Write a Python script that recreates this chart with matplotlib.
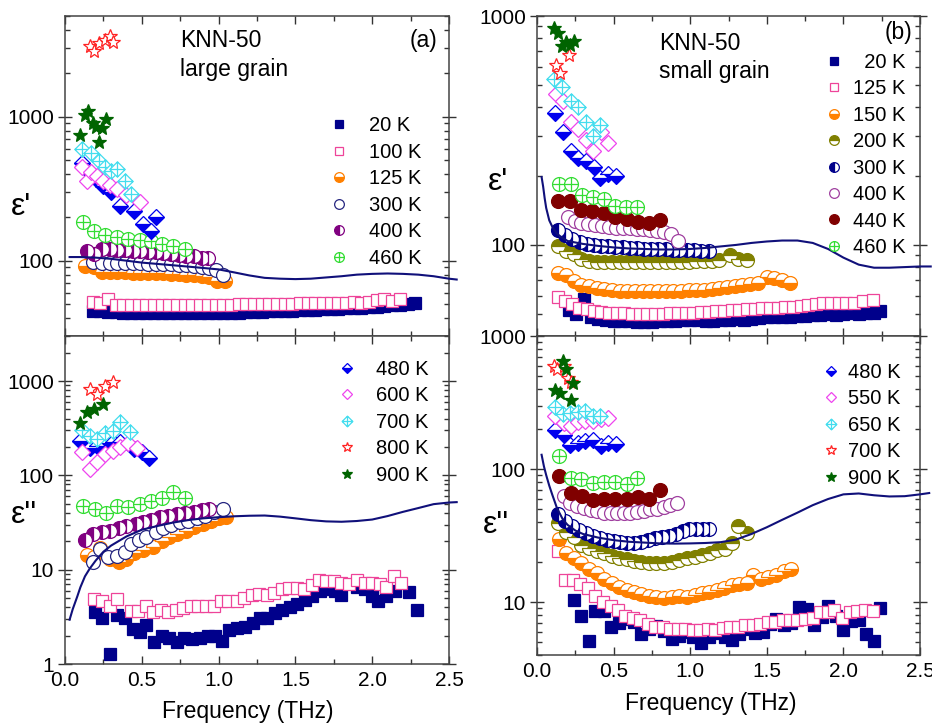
import matplotlib
matplotlib.use('Agg')
import matplotlib.pyplot as plt
from matplotlib.path import Path
from matplotlib.ticker import MultipleLocator, FuncFormatter, NullFormatter, LogLocator

plt.rcParams['font.family'] = ['Liberation Sans', 'DejaVu Sans']

# ---------------- Panel (a) large grain : eps' ----------------
A1_F20 = [0.18, 0.23, 0.28, 0.33, 0.38, 0.43, 0.48, 0.53, 0.58, 0.63, 0.68, 0.73, 0.78, 0.83, 0.88,
          0.93, 0.98, 1.03, 1.08, 1.13, 1.18, 1.23, 1.28, 1.33, 1.38, 1.43, 1.48, 1.53, 1.58, 1.63,
          1.68, 1.73, 1.78, 1.83, 1.88, 1.93, 1.98, 2.03, 2.08, 2.13, 2.18, 2.23, 2.28]
A1_E20 = [45, 44.5, 44, 43.7, 43.5, 43.3, 43.2, 43.1, 43, 43, 43, 43, 43, 43, 43.1, 43.2, 43.3, 43.4,
          43.5, 43.6, 43.8, 44, 44.2, 44.4, 44.6, 44.8, 45, 45.2, 45.5, 45.8, 46, 46.2, 46.5, 46.8,
          47, 47.3, 47.6, 48, 48.5, 49, 49.5, 50, 50.5]
A1_F100 = [0.18, 0.23, 0.28, 0.33, 0.38, 0.43, 0.48, 0.53, 0.58, 0.63, 0.68, 0.73, 0.78, 0.83, 0.88,
           0.93, 0.98, 1.03, 1.08, 1.13, 1.18, 1.23, 1.28, 1.33, 1.38, 1.43, 1.48, 1.53, 1.58, 1.63,
           1.68, 1.73, 1.78, 1.83, 1.88, 1.93, 1.98, 2.03, 2.08, 2.13, 2.18]
A1_E100 = [51.5, 51, 54, 49, 49, 49, 49, 49, 49, 49, 49, 49.2, 49.2, 49.3, 49.3, 49.4, 49.5, 49.5,
           49.6, 49.7, 49.8, 49.9, 50, 50, 50.2, 50.3, 50.4, 50.5, 50.6, 50.8, 51, 51, 51, 51.2,
           51.5, 51, 51.5, 53.5, 54, 52.5, 54.5]
A1_F125 = [0.13, 0.19, 0.24, 0.29, 0.34, 0.39, 0.44, 0.49, 0.54, 0.59, 0.64, 0.69, 0.74, 0.79, 0.84,
           0.89, 0.94, 0.99, 1.04]
A1_E125 = [92, 91, 84, 83.5, 83, 83, 82.5, 82.5, 82, 82, 81.5, 81, 80.5, 80, 79.5, 78.5, 77, 72, 72.5]
A1_F300 = [0.18, 0.24, 0.29, 0.34, 0.39, 0.44, 0.49, 0.54, 0.59, 0.64, 0.69, 0.74, 0.79, 0.84, 0.89,
           0.94, 0.98, 1.03]
A1_E300 = [98, 97, 97, 96.5, 96.5, 96, 96, 95.5, 95, 95, 94.5, 94, 93, 92, 91, 89, 86, 79]
A1_F400 = [0.14, 0.19, 0.24, 0.29, 0.34, 0.39, 0.44, 0.49, 0.54, 0.59, 0.64, 0.69, 0.74, 0.79, 0.84,
           0.89, 0.93]
A1_E400 = [117, 112, 120, 120, 119, 118, 117, 116, 115, 114, 113, 112, 110, 108, 107, 105, 104]
A1_F460 = [0.12, 0.19, 0.26, 0.34, 0.41, 0.49, 0.56, 0.63, 0.70, 0.78]
A1_E460 = [185, 162, 151, 146, 142, 140, 136, 131, 127, 121]
A1_F480 = [0.11, 0.15, 0.20, 0.25, 0.30, 0.36, 0.45, 0.51, 0.56, 0.59]
A1_E480 = [480, 420, 370, 330, 300, 240, 220, 180, 160, 200]
A1_F600 = [0.11, 0.14, 0.17, 0.21, 0.25, 0.29, 0.34, 0.40, 0.49]
A1_E600 = [450, 355, 410, 385, 360, 335, 315, 285, 255]
A1_F700 = [0.11, 0.17, 0.22, 0.26, 0.30, 0.34, 0.39, 0.43]
A1_E700 = [600, 555, 490, 450, 420, 435, 360, 290]
A1_F800 = [0.16, 0.19, 0.22, 0.26, 0.29, 0.31]
A1_E800 = [3100, 2850, 3250, 3400, 3650, 3300]
A1_F900 = [0.10, 0.13, 0.15, 0.18, 0.20, 0.22, 0.24, 0.27]
A1_E900 = [750, 1030, 1090, 900, 850, 670, 830, 970]
A1_FL = [0.03, 0.1, 0.2, 0.3, 0.4, 0.5, 0.6, 0.7, 0.8, 0.9, 1.0, 1.1, 1.2, 1.3, 1.4, 1.5, 1.6, 1.7,
         1.8, 1.9, 2.0, 2.1, 2.2, 2.3, 2.4, 2.5, 2.55]
A1_EL = [106, 106, 105, 103, 100, 97, 95, 93, 91, 89, 87, 83, 79, 76, 75, 74.5, 75, 76.5, 78, 80,
         81, 81.5, 81, 80, 78, 75, 74]

# ---------------- Panel (a) large grain : eps'' ----------------
A2_F20 = [0.195, 0.24, 0.29, 0.336, 0.39, 0.445, 0.49, 0.53, 0.58, 0.63, 0.68, 0.73, 0.777, 0.83,
          0.88, 0.93, 0.976, 1.02, 1.07, 1.12, 1.17, 1.226, 1.27, 1.317, 1.367, 1.415, 1.465, 1.51,
          1.56, 1.61, 1.66, 1.71, 1.76, 1.80, 1.90, 1.95, 2.0, 2.04, 2.09, 2.15, 2.24, 2.29]
A2_E20 = [3.6, 3.1, 1.28, 3.3, 3.06, 2.34, 2.2, 2.6, 1.73, 1.99, 1.88, 1.73, 1.88, 1.85, 1.9, 1.96,
          1.96, 1.77, 2.3, 2.4, 2.45, 2.7, 3.06, 3.1, 3.45, 3.7, 4.0, 4.3, 4.75, 5.3, 5.9, 6.3, 6.0,
          5.4, 6.6, 6.3, 5.3, 4.7, 5.3, 6.0, 5.8, 3.7]
A2_F100 = [0.19, 0.24, 0.29, 0.336, 0.43, 0.477, 0.527, 0.575, 0.625, 0.673, 0.72, 0.77, 0.82, 0.868,
           0.918, 0.97, 1.015, 1.063, 1.118, 1.167, 1.215, 1.265, 1.313, 1.363, 1.41, 1.458, 1.508,
           1.558, 1.606, 1.654, 1.70, 1.75, 1.80, 1.85, 1.90, 1.95, 2.0, 2.05, 2.09, 2.14, 2.19]
A2_E100 = [4.9, 4.7, 4.1, 4.9, 3.66, 3.66, 4.07, 3.6, 3.7, 3.6, 3.75, 3.9, 4.07, 4.07, 4.1, 4.1, 4.7,
           4.7, 4.7, 5.0, 5.4, 5.55, 5.4, 5.6, 6.2, 6.4, 6.4, 6.2, 6.9, 7.7, 7.5, 7.5, 7.2, 7.1, 7.8,
           7.2, 7.2, 7.1, 6.5, 8.6, 7.3]
A2_F125 = [0.14, 0.19, 0.23, 0.29, 0.35, 0.40, 0.45, 0.51, 0.57, 0.63, 0.68, 0.73, 0.79, 0.84, 0.90,
           0.95, 1.00, 1.05]
A2_E125 = [14.2, 13.5, 16.8, 13.0, 12.0, 13.0, 15.2, 16.0, 17.3, 20.2, 22, 24, 26, 28, 30.5, 33, 35, 36]
A2_F300 = [0.18, 0.23, 0.28, 0.34, 0.39, 0.43, 0.48, 0.53, 0.59, 0.64, 0.69, 0.75, 0.80, 0.86, 0.91,
           0.97, 1.03]
A2_E300 = [12, 16.5, 13.5, 14, 15.5, 18.7, 20.4, 22, 25, 27.5, 29.8, 31.8, 33.2, 35, 37.5, 41, 44]
A2_F400 = [0.13, 0.18, 0.24, 0.29, 0.35, 0.40, 0.46, 0.51, 0.56, 0.62, 0.67, 0.73, 0.78, 0.84, 0.89,
           0.94]
A2_E400 = [20.5, 24, 25, 25.4, 27.5, 29, 30.6, 32.4, 34, 36, 37.5, 39, 40, 40.7, 42.5, 44]
A2_F460 = [0.12, 0.195, 0.265, 0.34, 0.41, 0.49, 0.56, 0.63, 0.70, 0.78]
A2_E460 = [47, 44, 40, 47, 46, 50, 54, 57, 66, 58]
A2_F480 = [0.10, 0.16, 0.21, 0.26, 0.31, 0.36, 0.45, 0.50, 0.55]
A2_E480 = [232, 197, 204, 222, 224, 225, 190, 175, 152]
A2_F600 = [0.11, 0.16, 0.21, 0.26, 0.31, 0.36, 0.41, 0.47]
A2_E600 = [176, 118, 137, 168, 182, 200, 218, 194]
A2_F700 = [0.11, 0.16, 0.21, 0.26, 0.31, 0.36, 0.42]
A2_E700 = [300, 260, 245, 280, 292, 370, 285]
A2_F800 = [0.16, 0.21, 0.26, 0.31]
A2_E800 = [820, 720, 880, 975]
A2_F900 = [0.095, 0.145, 0.19, 0.245]
A2_E900 = [360, 465, 510, 565]
A2_FL = [0.03, 0.05, 0.08, 0.1, 0.13, 0.16, 0.2, 0.25, 0.3, 0.4, 0.5, 0.6, 0.7, 0.8, 0.9, 1.0, 1.1,
         1.2, 1.3, 1.4, 1.5, 1.6, 1.7, 1.8, 1.9, 2.0, 2.1, 2.2, 2.3, 2.4, 2.5, 2.55]
A2_EL = [2.95, 3.8, 5.2, 6.5, 8.5, 10.2, 12.5, 15.5, 18, 22.5, 26.5, 29, 31.5, 33.5, 35, 36, 36.8,
         37.3, 37.5, 36.5, 35, 33.5, 32.5, 32.2, 32.8, 34, 37, 41, 45, 49.5, 51.5, 52]

# ---------------- Panel (b) small grain : eps' ----------------
B1_F20 = [0.21, 0.255, 0.305, 0.35, 0.40, 0.45, 0.50, 0.55, 0.60, 0.65, 0.70, 0.75, 0.80, 0.85, 0.90,
          0.95, 1.00, 1.05, 1.10, 1.15, 1.20, 1.25, 1.30, 1.35, 1.40, 1.45, 1.50, 1.55, 1.60, 1.65,
          1.70, 1.75, 1.80, 1.85, 1.90, 1.95, 2.00, 2.05, 2.10, 2.15, 2.20, 2.24]
B1_E20 = [52, 50, 58, 48.5, 47.5, 47, 46.5, 46.3, 46.5, 46.2, 46, 46.2, 46.5, 46.3, 46.5, 46.8, 47,
          46.8, 46.5, 46.7, 47, 47.2, 47.3, 47.2, 47.5, 47.8, 48.2, 48.5, 48.3, 48.5, 48.8, 49, 49.2,
          49.5, 49.8, 49.4, 50, 50.3, 49.8, 50.3, 50.6, 51.5]
B1_F125 = [0.14, 0.185, 0.23, 0.275, 0.325, 0.37, 0.42, 0.47, 0.52, 0.57, 0.62, 0.67, 0.72, 0.77,
           0.82, 0.87, 0.92, 0.97, 1.02, 1.07, 1.12, 1.17, 1.22, 1.27, 1.32, 1.37, 1.42, 1.47, 1.52,
           1.57, 1.62, 1.67, 1.72, 1.77, 1.82, 1.87, 1.92, 1.97, 2.02, 2.07, 2.13, 2.19]
B1_E125 = [59, 57, 55, 53.2, 52.4, 51.2, 50.8, 50.5, 50.3, 50.2, 50.1, 50, 50, 50, 50.1, 50.2, 50.3,
           50.4, 50.5, 50.8, 51, 51.3, 51.6, 52, 52.2, 52.5, 52.7, 52.9, 53, 53.2, 53.5, 53.8, 54.2,
           54.6, 55, 55.5, 56, 55.8, 55.6, 56, 56.6, 57.5]
B1_F150 = [0.14, 0.19, 0.24, 0.29, 0.34, 0.39, 0.44, 0.49, 0.54, 0.59, 0.64, 0.69, 0.74, 0.79, 0.84,
           0.89, 0.94, 0.99, 1.04, 1.09, 1.14, 1.19, 1.24, 1.29, 1.34, 1.39, 1.44, 1.50, 1.55, 1.60,
           1.65]
B1_E150 = [75.5, 74, 69.5, 67, 66, 65, 64, 63.5, 63.2, 63, 63, 62.8, 62.8, 62.8, 63, 63, 63.2, 63.3,
           63.5, 63.8, 64.2, 64.7, 65.3, 66, 66.7, 67.5, 68.5, 72.5, 71.5, 70.5, 68.5]
B1_F200 = [0.14, 0.19, 0.24, 0.29, 0.34, 0.39, 0.44, 0.49, 0.54, 0.59, 0.64, 0.69, 0.74, 0.79, 0.84,
           0.89, 0.94, 0.99, 1.04, 1.09, 1.14, 1.19, 1.26, 1.31, 1.37]
B1_E200 = [99, 94.5, 91, 87, 85, 84.5, 84, 84, 84, 83.8, 83.8, 83.8, 84, 84, 84, 84.2, 84.3, 84.5,
           84.8, 85, 85.3, 85.5, 90, 86.5, 85.5]
B1_F300 = [0.14, 0.185, 0.23, 0.28, 0.325, 0.37, 0.42, 0.465, 0.51, 0.56, 0.605, 0.65, 0.70, 0.745,
           0.79, 0.84, 0.885, 0.93, 0.98, 1.025, 1.07, 1.12]
B1_E300 = [116, 110, 106.5, 103, 101, 100, 99, 98.5, 98, 97.5, 97, 96.5, 96.3, 96, 95.8, 95.5, 95.3,
           95, 94.8, 94.6, 94.5, 94.3]
B1_F400 = [0.20, 0.245, 0.29, 0.335, 0.38, 0.425, 0.47, 0.515, 0.56, 0.605, 0.65, 0.695, 0.74, 0.785,
           0.83, 0.875, 0.92]
B1_E400 = [133, 127, 125, 123.5, 122, 121, 120, 119, 118.5, 118, 117.5, 117, 116, 115, 113.5, 112,
           104.5]
B1_F440 = [0.14, 0.215, 0.29, 0.36, 0.435, 0.51, 0.585, 0.66, 0.73, 0.80]
B1_E440 = [155, 155, 142, 141, 138, 132, 130, 126, 125, 129]
B1_F460 = [0.145, 0.22, 0.295, 0.365, 0.435, 0.51, 0.58, 0.655]
B1_E460 = [184, 184, 166, 162, 158, 148, 146, 147]
B1_F480 = [0.12, 0.17, 0.225, 0.27, 0.32, 0.37, 0.41, 0.465, 0.515]
B1_E480 = [378, 312, 256, 240, 232, 220, 196, 204, 200]
B1_F550 = [0.125, 0.17, 0.225, 0.27, 0.32, 0.365, 0.415, 0.465]
B1_E550 = [455, 425, 345, 322, 288, 256, 310, 279]
B1_F650 = [0.11, 0.16, 0.22, 0.27, 0.32, 0.365, 0.41]
B1_E650 = [530, 492, 425, 400, 345, 298, 333]
B1_F700 = [0.125, 0.15, 0.21]
B1_E700 = [610, 565, 675]
B1_F900 = [0.11, 0.14, 0.16, 0.19, 0.215, 0.24]
B1_E900 = [885, 840, 740, 770, 750, 775]
B1_FL = [0.03, 0.04, 0.05, 0.06, 0.08, 0.1, 0.13, 0.16, 0.2, 0.3, 0.4, 0.5, 0.6, 0.7, 0.8, 0.9, 1.0,
         1.1, 1.2, 1.3, 1.4, 1.5, 1.6, 1.7, 1.8, 1.9, 2.0, 2.1, 2.2, 2.3, 2.4, 2.5, 2.57]
B1_EL = [198, 180, 160, 145, 128, 120, 112, 108, 104, 101, 99, 97.5, 96.5, 96, 95.5, 95.5, 96, 97,
         98.5, 100, 102, 103.5, 104.5, 104.5, 102, 96, 88, 82, 79.5, 79.5, 80, 80.5, 80.5]

# ---------------- Panel (b) small grain : eps'' ----------------
B2_F20 = [0.24, 0.29, 0.34, 0.38, 0.435, 0.485, 0.535, 0.585, 0.63, 0.68, 0.73, 0.78, 0.83, 0.88,
          0.93, 0.975, 1.02, 1.07, 1.125, 1.175, 1.23, 1.27, 1.32, 1.375, 1.425, 1.475, 1.52, 1.56,
          1.61, 1.66, 1.71, 1.76, 1.805, 1.86, 1.90, 1.95, 2.0, 2.05, 2.1, 2.15, 2.2, 2.24]
B2_E20 = [10.3, 7.9, 5.1, 8.6, 8.5, 6.5, 7.0, 7.4, 7.1, 5.8, 6.3, 6.6, 6.1, 5.3, 5.6, 6.0, 5.5, 4.9,
          5.5, 5.9, 5.5, 5.15, 5.8, 6.3, 5.9, 6.0, 6.8, 7.4, 6.7, 7.0, 9.2, 8.8, 6.7, 7.7, 9.4, 7.9,
          6.2, 7.2, 7.35, 5.8, 5.1, 9.1]
B2_F125 = [0.14, 0.185, 0.235, 0.283, 0.33, 0.38, 0.43, 0.48, 0.53, 0.577, 0.627, 0.675, 0.725, 0.77,
           0.82, 0.87, 0.92, 0.968, 1.02, 1.066, 1.116, 1.164, 1.214, 1.262, 1.312, 1.36, 1.41,
           1.458, 1.508, 1.556, 1.605, 1.654, 1.70, 1.75, 1.80, 1.85, 1.90, 1.94, 1.99, 2.04, 2.09,
           2.14, 2.19]
B2_E125 = [24, 14.7, 14.7, 13.6, 12.8, 11.2, 10.0, 9.3, 8.65, 7.9, 7.6, 7.3, 6.85, 6.55, 6.5, 6.3,
           6.3, 6.3, 6.2, 6.2, 6.25, 6.2, 6.35, 6.5, 6.5, 6.7, 6.7, 6.85, 7.1, 7.1, 7.3, 7.35, 7.3,
           7.5, 7.6, 8.4, 8.4, 8.65, 7.6, 8.4, 8.5, 8.65, 8.5]
B2_F150 = [0.145, 0.19, 0.24, 0.29, 0.34, 0.39, 0.44, 0.49, 0.535, 0.585, 0.63, 0.68, 0.73, 0.78,
           0.83, 0.88, 0.93, 0.98, 1.03, 1.077, 1.125, 1.175, 1.22, 1.27, 1.32, 1.37, 1.41, 1.46,
           1.51, 1.56, 1.61, 1.66]
B2_E150 = [29.6, 23.5, 21.6, 19.5, 17.6, 16.4, 15.0, 13.8, 13.0, 12.3, 11.8, 11.4, 11.1, 10.9, 10.8,
           10.9, 11.1, 10.9, 11.3, 11.6, 11.9, 12.3, 12.8, 13.4, 13.6, 13.8, 15.9, 15.0, 15.4, 16.1,
           17.2, 17.6]
B2_F200 = [0.14, 0.19, 0.24, 0.29, 0.34, 0.39, 0.44, 0.49, 0.535, 0.585, 0.63, 0.68, 0.73, 0.78,
           0.83, 0.88, 0.93, 0.98, 1.03, 1.077, 1.127, 1.175, 1.225, 1.27, 1.315, 1.37]
B2_E200 = [39, 33.8, 30.6, 26.8, 25.7, 24.1, 23.2, 22.3, 21.6, 20.9, 20.4, 20.0, 19.7, 19.5, 19.7,
           20.0, 20.6, 21.3, 22.0, 22.6, 23.4, 24.5, 25.2, 27.6, 37.3, 32.9]
B2_F300 = [0.14, 0.185, 0.23, 0.275, 0.32, 0.365, 0.41, 0.455, 0.50, 0.545, 0.59, 0.635, 0.68, 0.725,
           0.77, 0.815, 0.86, 0.905, 0.95, 0.995, 1.04, 1.085, 1.12]
B2_E300 = [45.7, 40.5, 37, 35, 33, 31.3, 30.2, 29.3, 28.8, 28.3, 27.9, 28.0, 28.5, 29.5, 30.5, 31.0,
           31.3, 32.5, 34.2, 35.2, 35.5, 35.5, 35.2]
B2_F400 = [0.175, 0.215, 0.26, 0.305, 0.35, 0.39, 0.435, 0.48, 0.52, 0.565, 0.61, 0.655, 0.70, 0.74,
           0.785, 0.83, 0.87, 0.915]
B2_E400 = [63, 56, 52.8, 51.3, 49.3, 48, 47.1, 46.8, 46.6, 46.8, 47, 47.6, 48.5, 49.9, 50.5, 51.5,
           53.5, 56]
B2_F440 = [0.145, 0.22, 0.295, 0.365, 0.44, 0.51, 0.585, 0.66, 0.73, 0.80]
B2_E440 = [89, 66, 63, 58.6, 59.7, 59.3, 60, 62, 59.3, 70]
B2_F460 = [0.145, 0.22, 0.29, 0.365, 0.435, 0.51, 0.585, 0.655]
B2_E460 = [125, 85, 84, 79, 80, 80, 77, 86]
B2_F480 = [0.12, 0.175, 0.215, 0.265, 0.315, 0.365, 0.415, 0.465, 0.515]
B2_E480 = [197, 179, 152, 158, 162, 165, 150, 157, 153]
B2_F550 = [0.12, 0.175, 0.22, 0.265, 0.315, 0.365, 0.415, 0.465]
B2_E550 = [252, 222, 210, 224, 228, 231, 238, 240]
B2_F650 = [0.12, 0.17, 0.215, 0.265, 0.315, 0.365, 0.41]
B2_E650 = [295, 260, 265, 270, 274, 252, 252]
B2_F700 = [0.11, 0.13, 0.175, 0.2, 0.225]
B2_E700 = [600, 560, 590, 480, 450]
B2_F900 = [0.115, 0.15, 0.17, 0.19, 0.22, 0.235]
B2_E900 = [395, 370, 650, 565, 330, 445]
B2_FL = [0.03, 0.045, 0.06, 0.08, 0.1, 0.13, 0.17, 0.2, 0.25, 0.3, 0.4, 0.5, 0.6, 0.7, 0.8, 0.9, 1.0,
         1.1, 1.2, 1.3, 1.4, 1.5, 1.6, 1.7, 1.8, 1.9, 2.0, 2.1, 2.2, 2.3, 2.4, 2.5, 2.56]
B2_EL = [128, 105, 90, 75, 64, 51, 41.5, 38, 34.5, 32.5, 30.5, 29.2, 28.4, 28, 27.6, 27.5, 27.6, 27.8,
         28.2, 29.5, 32.5, 36.5, 41.5, 47, 53.5, 59.5, 64.5, 65.5, 63.5, 62.2, 62.5, 64.5, 66]

# ---------------- styles ----------------
NAVY = '#00008B'
PINK = '#EE4499'
ORANGE = '#FF8000'
BLUE300 = '#262680'
PURPLE = '#800080'
GREEN = '#33DD33'
BLUE = '#0000EE'
MAGENTA = '#EE44EE'
CYAN = '#44DDEE'
RED = '#FF2222'
DKGREEN = '#006400'
OLIVE = '#808000'
VIOLET = '#A040A0'
DKRED = '#800000'
LINEC = '#10107A'

OPLUS = Path.make_compound_path(
    Path.unit_circle(),
    Path([(-1, 0), (1, 0), (0, -1), (0, 1)], [1, 2, 1, 2]))
DPLUS = Path([(0, 1), (1, 0), (0, -1), (-1, 0), (0, 1), (0, 1), (0, -1), (-1, 0), (1, 0)],
             [1, 2, 2, 2, 79, 1, 2, 1, 2])

MS_C = 10.0
MS_S = 8.6
MS_D = 7.8
MS_DP = 11.0
MS_ST = 10.8


def st(marker, color, ms, fill='full', face=None, alt='white'):
    d = dict(marker=marker, ms=ms, mec=color, mew=0.9, ls='none', fillstyle=fill,
             mfc=(color if face is None else face))
    if fill not in ('full', 'none'):
        d['markerfacecoloralt'] = alt
    return d


S_SQ_FULL = st('s', NAVY, MS_S)
S_SQ_OPEN = st('s', PINK, MS_S, face='white')
S_OR_HALF = st('o', ORANGE, MS_C, fill='bottom')
S_C_OPEN = st('o', BLUE300, MS_C, face='white')
S_PU_LEFT = st('o', PURPLE, MS_C, fill='left')
S_OPLUS = st(OPLUS, GREEN, MS_C, face='white')
S_D_HALF = st('D', BLUE, MS_D, fill='bottom')
S_D_OPEN = st('D', MAGENTA, MS_D, face='white')
S_DPLUS = st(DPLUS, CYAN, MS_DP, face='white')
S_STAR_OPEN = st('*', RED, MS_ST, face='white')
S_STAR_FULL = st('*', DKGREEN, MS_ST)
S_OL_TOP = st('o', OLIVE, MS_C, fill='top')
S_NV_LEFT = st('o', NAVY, MS_C, fill='left')
S_VI_OPEN = st('o', VIOLET, MS_C, face='white')
S_DR_FULL = st('o', DKRED, MS_C)

A_SERIES = [
    ('20 K', S_SQ_FULL, A1_F20, A1_E20, A2_F20, A2_E20),
    ('100 K', S_SQ_OPEN, A1_F100, A1_E100, A2_F100, A2_E100),
    ('125 K', S_OR_HALF, A1_F125, A1_E125, A2_F125, A2_E125),
    ('300 K', S_C_OPEN, A1_F300, A1_E300, A2_F300, A2_E300),
    ('400 K', S_PU_LEFT, A1_F400, A1_E400, A2_F400, A2_E400),
    ('460 K', S_OPLUS, A1_F460, A1_E460, A2_F460, A2_E460),
    ('480 K', S_D_HALF, A1_F480, A1_E480, A2_F480, A2_E480),
    ('600 K', S_D_OPEN, A1_F600, A1_E600, A2_F600, A2_E600),
    ('700 K', S_DPLUS, A1_F700, A1_E700, A2_F700, A2_E700),
    ('800 K', S_STAR_OPEN, A1_F800, A1_E800, A2_F800, A2_E800),
    ('900 K', S_STAR_FULL, A1_F900, A1_E900, A2_F900, A2_E900),
]
B_SERIES = [
    ('  20 K', S_SQ_FULL, B1_F20, B1_E20, B2_F20, B2_E20),
    ('125 K', S_SQ_OPEN, B1_F125, B1_E125, B2_F125, B2_E125),
    ('150 K', S_OR_HALF, B1_F150, B1_E150, B2_F150, B2_E150),
    ('200 K', S_OL_TOP, B1_F200, B1_E200, B2_F200, B2_E200),
    ('300 K', S_NV_LEFT, B1_F300, B1_E300, B2_F300, B2_E300),
    ('400 K', S_VI_OPEN, B1_F400, B1_E400, B2_F400, B2_E400),
    ('440 K', S_DR_FULL, B1_F440, B1_E440, B2_F440, B2_E440),
    ('460 K', S_OPLUS, B1_F460, B1_E460, B2_F460, B2_E460),
    ('480 K', S_D_HALF, B1_F480, B1_E480, B2_F480, B2_E480),
    ('550 K', S_D_OPEN, B1_F550, B1_E550, B2_F550, B2_E550),
    ('650 K', S_DPLUS, B1_F650, B1_E650, B2_F650, B2_E650),
    ('700 K', S_STAR_OPEN, B1_F700, B1_E700, B2_F700, B2_E700),
    ('900 K', S_STAR_FULL, B1_F900, B1_E900, B2_F900, B2_E900),
]

fig = plt.figure(figsize=(9.32, 7.25), dpi=100)
W, H = 932.0, 725.0


def add_ax(x0, x1, ytop, ybot):
    return fig.add_axes([x0 / W, 1 - ybot / H, (x1 - x0) / W, (ybot - ytop) / H])


axA1 = add_ax(65, 449, 16, 336)
axA2 = add_ax(65, 449, 336, 664)
axB1 = add_ax(537, 920, 16, 336)
axB2 = add_ax(537, 920, 336, 655)

TICKFS = 15
LEGFS = 14.5


def style_axis(ax, ylim, bottom_labels):
    ax.set_yscale('log')
    ax.set_xlim(0, 2.5)
    ax.set_ylim(*ylim)
    ax.xaxis.set_major_locator(MultipleLocator(0.5))
    ax.xaxis.set_minor_locator(MultipleLocator(0.25))
    ax.xaxis.set_major_formatter(FuncFormatter(lambda v, p: f'{v:.1f}'))
    ax.yaxis.set_major_locator(LogLocator(base=10, numticks=20))
    ax.yaxis.set_minor_locator(LogLocator(base=10, subs=tuple(range(2, 10)), numticks=20))
    ax.yaxis.set_major_formatter(FuncFormatter(lambda v, p: f'{v:g}'))
    ax.yaxis.set_minor_formatter(NullFormatter())
    ax.tick_params(which='both', direction='in', top=True, right=True, labelsize=TICKFS,
                   color='#333333', width=1.0)
    ax.tick_params(axis='x', which='major', length=6, pad=5)
    ax.tick_params(axis='x', which='minor', length=3.5)
    ax.tick_params(axis='y', which='major', direction='inout', length=10, pad=3)
    ax.tick_params(axis='y', which='minor', length=3.5)
    ax.tick_params(labelbottom=bottom_labels)
    for s in ax.spines.values():
        s.set_linewidth(1.1)
        s.set_color('#444444')


def draw(ax, series, idx, line_f, line_e):
    handles = []
    for row in series:
        lab, sty = row[0], row[1]
        f, e = row[2 + 2 * idx], row[3 + 2 * idx]
        h, = ax.plot(f, e, label=lab, **sty)
        handles.append(h)
    ax.plot(line_f, line_e, color=LINEC, lw=1.5, zorder=5, clip_on=False)
    return handles


hA1 = draw(axA1, A_SERIES, 0, A1_FL, A1_EL)
hA2 = draw(axA2, A_SERIES, 1, A2_FL, A2_EL)
hB1 = draw(axB1, B_SERIES, 0, B1_FL, B1_EL)
hB2 = draw(axB2, B_SERIES, 1, B2_FL, B2_EL)

style_axis(axA1, (30, 5000), False)
style_axis(axA2, (1, 3000), True)
style_axis(axB1, (40, 1000), False)
style_axis(axB2, (4, 1000), True)


def legend(ax, handles, x, y, pad):
    ax.legend(handles=handles, loc='upper left', bbox_to_anchor=(x, y), frameon=False,
              fontsize=LEGFS, handlelength=1.0, handletextpad=pad, labelspacing=0.37,
              borderpad=0, borderaxespad=0, markerscale=0.7, numpoints=1)


legend(axA1, hA1[:6], 0.6875, 0.686, 1.0)
legend(axA2, hA2[6:], 0.7076, 0.927, 0.96)
legend(axB1, hB1[:8], 0.749, 0.885, 0.46)
legend(axB2, hB2[8:], 0.7415, 0.916, 0.36)

TXTFS = 16.5
axA1.text(0.2995, 0.925, 'KNN-50', transform=axA1.transAxes, fontsize=TXTFS, va='center')
axA1.text(0.2995, 0.834, 'large grain', transform=axA1.transAxes, fontsize=TXTFS, va='center')
axA1.text(0.971, 0.925, '(a)', transform=axA1.transAxes, fontsize=TXTFS, va='center', ha='right')
axB1.text(0.3185, 0.9156, 'KNN-50', transform=axB1.transAxes, fontsize=TXTFS, va='center')
axB1.text(0.3185, 0.826, 'small grain', transform=axB1.transAxes, fontsize=TXTFS, va='center')
axB1.text(0.979, 0.947, '(b)', transform=axB1.transAxes, fontsize=TXTFS, va='center', ha='right')

EPSFS = 23
axA1.text(-0.115, 0.403, "\u03b5'", transform=axA1.transAxes, fontsize=EPSFS, va='center', ha='center')
axA2.text(-0.107, 0.454, "\u03b5''", transform=axA2.transAxes, fontsize=EPSFS, va='center', ha='center')
axB1.text(-0.103, 0.482, "\u03b5'", transform=axB1.transAxes, fontsize=EPSFS, va='center', ha='center')
axB2.text(-0.107, 0.4075, "\u03b5''", transform=axB2.transAxes, fontsize=EPSFS, va='center', ha='center')

axA2.set_xlabel('Frequency (THz)', fontsize=16.5)
axA2.xaxis.set_label_coords(0.475, -0.11)
axB2.set_xlabel('Frequency (THz)', fontsize=16.5)
axB2.xaxis.set_label_coords(0.454, -0.116)

fig.savefig('out.png', dpi=100)
